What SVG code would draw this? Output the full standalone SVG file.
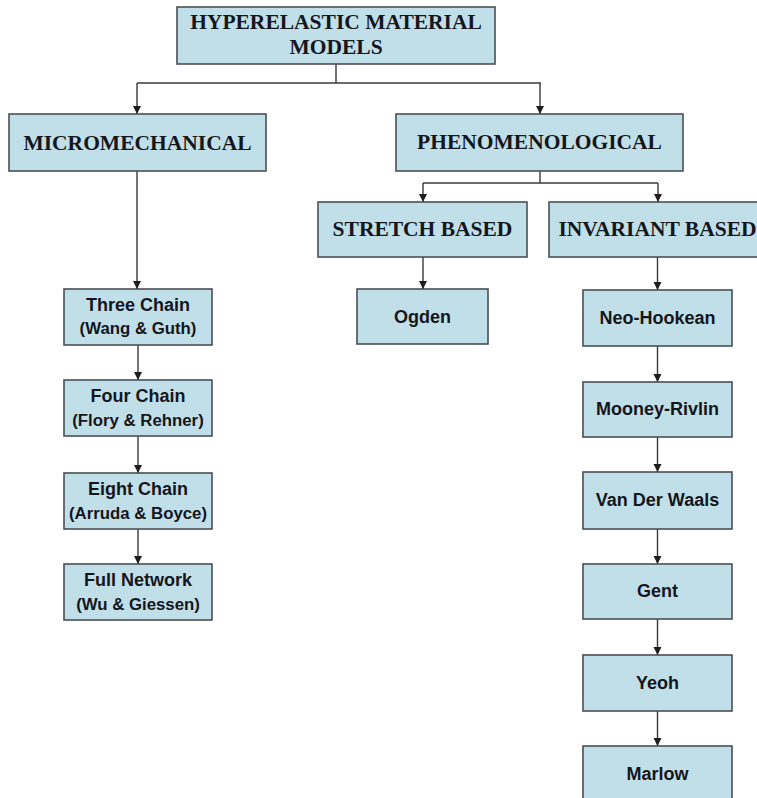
<svg xmlns="http://www.w3.org/2000/svg" width="757" height="798" viewBox="0 0 757 798">
  <style>
    .box { fill: #c1dfe9; stroke: #4a4f55; stroke-width: 1.6; }
    .serif { font-family: "Liberation Serif", "Times New Roman", serif; font-weight: bold; font-size: 21.5px; fill: #15161c; text-anchor: middle; }
    .sans { font-family: "Liberation Sans", Arial, sans-serif; font-weight: bold; font-size: 18px; fill: #15161c; text-anchor: middle; }
    .sub { font-family: "Liberation Sans", Arial, sans-serif; font-weight: bold; font-size: 16.8px; fill: #15161c; text-anchor: middle; }
    .link { fill: none; stroke: #3a3a3a; stroke-width: 1.4; }
  </style>
  <defs>
    <marker id="arrow" markerWidth="8" markerHeight="9" refX="8" refY="4" orient="auto" markerUnits="userSpaceOnUse">
      <path d="M0,0 L8,4 L0,8 Z" fill="#1e1e1e"/>
    </marker>
  </defs>
  <rect width="757" height="798" fill="#ffffff"/>

  <g id="connectors">
    <!-- root to the two families -->
    <path class="link" d="M336,64 V83"/>
    <path class="link" d="M137,83 H541"/>
    <path class="link" d="M137,83 V114" marker-end="url(#arrow)"/>
    <path class="link" d="M540,83 V114" marker-end="url(#arrow)"/>
    <!-- micromechanical chain -->
    <path class="link" d="M137,171 V289" marker-end="url(#arrow)"/>
    <path class="link" d="M138,345 V380" marker-end="url(#arrow)"/>
    <path class="link" d="M138,436 V473" marker-end="url(#arrow)"/>
    <path class="link" d="M138,529 V564" marker-end="url(#arrow)"/>
    <!-- phenomenological split -->
    <path class="link" d="M540,171 V183"/>
    <path class="link" d="M423,183 H658"/>
    <path class="link" d="M423,183 V202" marker-end="url(#arrow)"/>
    <path class="link" d="M658,183 V202" marker-end="url(#arrow)"/>
    <path class="link" d="M423,257 V289" marker-end="url(#arrow)"/>
    <!-- invariant based chain -->
    <path class="link" d="M657.5,257 V290" marker-end="url(#arrow)"/>
    <path class="link" d="M657.5,346 V382" marker-end="url(#arrow)"/>
    <path class="link" d="M657.5,437 V472" marker-end="url(#arrow)"/>
    <path class="link" d="M657.5,529 V564" marker-end="url(#arrow)"/>
    <path class="link" d="M657.5,619 V655" marker-end="url(#arrow)"/>
    <path class="link" d="M657.5,711 V746" marker-end="url(#arrow)"/>
  </g>

  <g id="root">
    <rect class="box" x="177" y="7" width="318" height="57"/>
    <text class="serif" x="336" y="29">HYPERELASTIC MATERIAL</text>
    <text class="serif" x="336" y="54">MODELS</text>
  </g>
  <g id="micromechanical">
    <rect class="box" x="9" y="114" width="257" height="57"/>
    <text class="serif" x="137.5" y="150">MICROMECHANICAL</text>
  </g>
  <g id="phenomenological">
    <rect class="box" x="396" y="114" width="287" height="57"/>
    <text class="serif" x="539.5" y="149">PHENOMENOLOGICAL</text>
  </g>
  <g id="stretch-based">
    <rect class="box" x="318" y="202" width="209" height="55"/>
    <text class="serif" x="422.5" y="236">STRETCH BASED</text>
  </g>
  <g id="invariant-based">
    <rect class="box" x="549" y="202" width="217" height="55"/>
    <text class="serif" x="657.5" y="236">INVARIANT BASED</text>
  </g>

  <g id="three-chain">
    <rect class="box" x="64" y="289" width="148" height="56"/>
    <text class="sans" x="138" y="311">Three Chain</text>
    <text class="sub" x="138" y="334">(Wang &amp; Guth)</text>
  </g>
  <g id="four-chain">
    <rect class="box" x="64" y="380" width="148" height="56"/>
    <text class="sans" x="138" y="402">Four Chain</text>
    <text class="sub" x="138" y="426">(Flory &amp; Rehner)</text>
  </g>
  <g id="eight-chain">
    <rect class="box" x="64" y="473" width="148" height="56"/>
    <text class="sans" x="138" y="495">Eight Chain</text>
    <text class="sub" x="138" y="519">(Arruda &amp; Boyce)</text>
  </g>
  <g id="full-network">
    <rect class="box" x="64" y="564" width="148" height="56"/>
    <text class="sans" x="138" y="586">Full Network</text>
    <text class="sub" x="138" y="610">(Wu &amp; Giessen)</text>
  </g>

  <g id="ogden">
    <rect class="box" x="357" y="289" width="131" height="55"/>
    <text class="sans" x="422.5" y="323">Ogden</text>
  </g>

  <g id="neo-hookean">
    <rect class="box" x="583" y="290" width="149" height="56"/>
    <text class="sans" x="657.5" y="324">Neo-Hookean</text>
  </g>
  <g id="mooney-rivlin">
    <rect class="box" x="583" y="382" width="149" height="55"/>
    <text class="sans" x="657.5" y="415">Mooney-Rivlin</text>
  </g>
  <g id="van-der-waals">
    <rect class="box" x="583" y="472" width="149" height="57"/>
    <text class="sans" x="657.5" y="506">Van Der Waals</text>
  </g>
  <g id="gent">
    <rect class="box" x="583" y="564" width="149" height="55"/>
    <text class="sans" x="657.5" y="597">Gent</text>
  </g>
  <g id="yeoh">
    <rect class="box" x="583" y="655" width="149" height="56"/>
    <text class="sans" x="657.5" y="689">Yeoh</text>
  </g>
  <g id="marlow">
    <rect class="box" x="583" y="746" width="149" height="56"/>
    <text class="sans" x="657.5" y="780">Marlow</text>
  </g>
</svg>
